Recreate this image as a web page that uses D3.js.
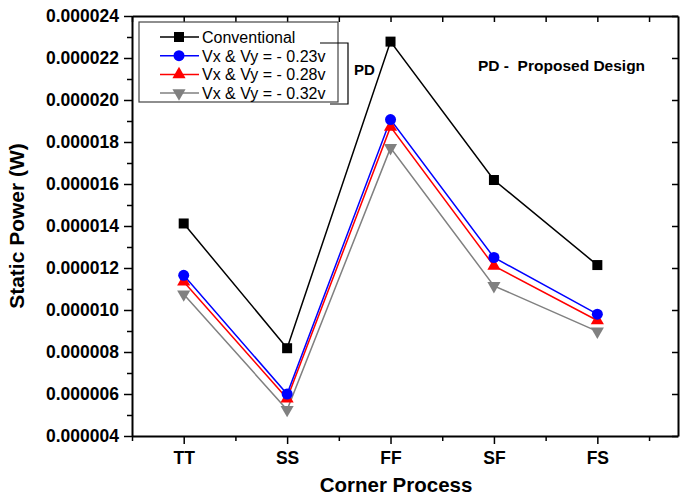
<!DOCTYPE html>
<html>
<head>
<meta charset="utf-8">
<script src="https://cdn.jsdelivr.net/npm/d3@7"></script>
<style>
  body { margin: 0; background: #fff; }
  svg { font-family: Arial, "Liberation Sans", sans-serif; }
</style>
</head>
<body>
<div id="chart"></div>
<script>
const corners = ["TT", "SS", "FF", "SF", "FS"];
const conventional = [14.12e-6, 8.18e-6, 22.78e-6, 16.19e-6, 12.14e-6];
const vxy023 = [11.65e-6, 6.0e-6, 19.07e-6, 12.5e-6, 9.8e-6];
const vxy028 = [11.35e-6, 5.78e-6, 18.72e-6, 12.1e-6, 9.5e-6];
const vxy032 = [10.75e-6, 5.25e-6, 17.72e-6, 11.15e-6, 8.98e-6];
const yTicks = [0.000004, 0.000006, 0.000008, 0.000010, 0.000012, 0.000014,
                0.000016, 0.000018, 0.000020, 0.000022, 0.000024];

const series = [
  { name: "Conventional", values: conventional, color: "#000", shape: "square" },
  { name: "Vx & Vy = - 0.23v", values: vxy023, color: "#0000ff", shape: "circle" },
  { name: "Vx & Vy = - 0.28v", values: vxy028, color: "#ff0000", shape: "up" },
  { name: "Vx & Vy = - 0.32v", values: vxy032, color: "#808080", shape: "down" }
];

const width = 680, height = 497;
const svg = d3.select("#chart").append("svg")
  .attr("width", width).attr("height", height);

const x = d3.scaleLinear().domain([0.5, 5.78]).range([132, 678]);
const y = d3.scaleLinear().domain([0.000004, 0.000024]).range([436, 16]);

const minorX = d3.range(0.5, 5.6, 1);
const minorY = d3.range(0.000005, 0.000024, 0.000002);

// axes
const axBottom = svg.append("g").attr("transform", "translate(0,436)");
axBottom.call(d3.axisBottom(x).tickValues([1, 2, 3, 4, 5])
  .tickFormat((d) => corners[d - 1]).tickSize(8).tickSizeOuter(0));
axBottom.append("g").call(d3.axisBottom(x).tickValues(minorX).tickFormat("").tickSize(5).tickSizeOuter(0))
  .select(".domain").remove();

const axTop = svg.append("g").attr("transform", "translate(0,16)");
axTop.call(d3.axisBottom(x).tickValues(d3.range(1, 5.1, 1).concat(minorX)).tickFormat("").tickSize(6).tickSizeOuter(0));

const fmt = (d) => d.toFixed(6);
const axLeft = svg.append("g").attr("transform", "translate(132,0)");
axLeft.call(d3.axisLeft(y).tickValues(yTicks).tickFormat(fmt).tickSize(8).tickSizeOuter(0));
axLeft.append("g").call(d3.axisLeft(y).tickValues(minorY).tickFormat("").tickSize(5).tickSizeOuter(0))
  .select(".domain").remove();

const axRight = svg.append("g").attr("transform", "translate(678,0)");
axRight.call(d3.axisLeft(y).tickValues(yTicks).tickFormat("").tickSize(6).tickSizeOuter(0));

svg.selectAll(".domain").attr("stroke", "#000").attr("stroke-width", 2);
svg.selectAll(".tick line").attr("stroke", "#000").attr("stroke-width", 1.5);
svg.selectAll(".tick text").attr("fill", "#000").attr("font-weight", "bold").attr("font-size", 17.5);
axLeft.selectAll(".tick text").attr("dx", -2);
axBottom.selectAll(".tick text").attr("dy", "0.95em");

// axis titles
svg.append("text").attr("x", 396).attr("y", 492).attr("text-anchor", "middle")
  .attr("font-weight", "bold").attr("font-size", 20.5).text("Corner Process");
svg.append("text").attr("transform", "translate(24,226) rotate(-90)").attr("text-anchor", "middle")
  .attr("font-weight", "bold").attr("font-size", 21).text("Static Power (W)");

// markers
function marker(g, shape, color, cx, cy) {
  if (shape === "square") {
    g.append("rect").attr("x", cx - 5).attr("y", cy - 5).attr("width", 10).attr("height", 10).attr("fill", color);
  } else if (shape === "circle") {
    g.append("circle").attr("cx", cx).attr("cy", cy).attr("r", 5.5).attr("fill", color);
  } else {
    const sym = d3.symbol().type(d3.symbolTriangle).size(75)();
    g.append("path").attr("d", sym)
      .attr("transform", `translate(${cx},${cy})` + (shape === "down" ? " rotate(180)" : ""))
      .attr("fill", color);
  }
}

const line = d3.line().x((d, i) => x(i + 1)).y((d) => y(d));
const plot = svg.append("g");
for (const s of series.slice().reverse()) {
  plot.append("path").datum(s.values).attr("d", line)
    .attr("fill", "none").attr("stroke", s.color).attr("stroke-width", 1.5);
}
for (const s of series.slice().reverse()) {
  s.values.forEach((v, i) => marker(plot, s.shape, s.color, x(i + 1), y(v)));
}

// legend
const leg = svg.append("g");
leg.append("rect").attr("x", 139).attr("y", 22).attr("width", 199).attr("height", 80)
  .attr("fill", "#fff").attr("stroke", "#444").attr("stroke-width", 1.2);
series.forEach((s, i) => {
  const ly = 37 + i * 18.7;
  leg.append("line").attr("x1", 160).attr("x2", 199).attr("y1", ly).attr("y2", ly)
    .attr("stroke", s.color).attr("stroke-width", 1.5);
  marker(leg, s.shape, s.color, 179, ly);
  leg.append("text").attr("x", 202).attr("y", ly + 6).attr("font-size", 16).attr("fill", "#000").text(s.name);
});
leg.append("path").attr("d", "M320,43 H348 V104 H330").attr("fill", "none")
  .attr("stroke", "#000").attr("stroke-width", 1.2);
svg.append("text").attr("x", 354).attr("y", 75).attr("font-weight", "bold").attr("font-size", 15).text("PD");
svg.append("text").attr("x", 478).attr("y", 71).attr("font-weight", "bold").attr("font-size", 15.5)
  .attr("xml:space", "preserve").text("PD -  Proposed Design");
</script>
</body>
</html>
